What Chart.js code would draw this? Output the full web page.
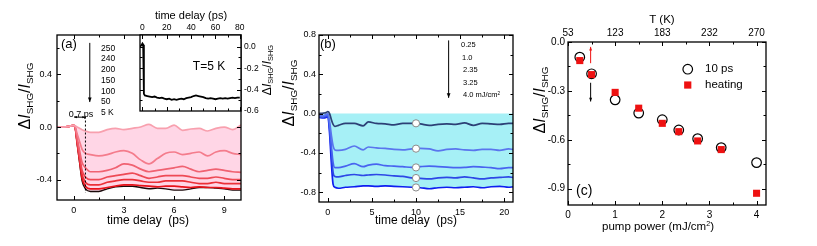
<!DOCTYPE html>
<html>
<head>
<meta charset="utf-8">
<script src="https://cdn.jsdelivr.net/npm/chart.js@4.4.1/dist/chart.umd.min.js"></script>
<style>
html, body { margin: 0; padding: 0; background: #fff; }
#wrap { position: relative; width: 817px; height: 246px; overflow: hidden; font-family: "Liberation Sans", Arial, sans-serif; color: #000; }
canvas { position: absolute; top: 0; }
.t { position: absolute; white-space: nowrap; line-height: 1; }
.c { transform: translate(-50%, -50%); }
.l { transform: translate(0, -50%); }
sup { font-size: 0.62em; vertical-align: 0.55em; line-height: 0; }
</style>
</head>
<body>
<div id="wrap">
  <canvas id="chartA" width="270" height="246" style="left:0"></canvas>
  <canvas id="chartB" width="270" height="246" style="left:270px"></canvas>
  <canvas id="chartInset" width="150" height="125" style="left:130px"></canvas>
  <canvas id="chartC" width="292" height="246" style="left:525px"></canvas>

  <div class="t l" style="left:61px;top:43px;font-size:13px">(a)</div>
  <div class="t c" style="left:148px;top:220px;font-size:12px">time delay&nbsp; (ps)</div>
  <div class="t c" style="left:81px;top:114px;font-size:9px">0.7 ps</div>
  <div class="t c" style="left:209px;top:66px;font-size:12px">T=5 K</div>
  <div class="t c" style="left:191px;top:15px;font-size:11px">time delay (ps)</div>

  <div class="t l" style="left:320px;top:43px;font-size:13px">(b)</div>
  <div class="t c" style="left:416px;top:220px;font-size:12px">time delay&nbsp; (ps)</div>

  <div class="t c" style="left:658px;top:227px;font-size:11.5px">pump power (mJ/cm<sup>2</sup>)</div>
  <div class="t c" style="left:662px;top:20px;font-size:11.5px">T (K)</div>
  <div class="t l" style="left:705px;top:69px;font-size:11.5px">10 ps</div>
  <div class="t l" style="left:705px;top:85px;font-size:11.5px">heating</div>
  <div class="t l" style="left:576px;top:190px;font-size:14px">(c)</div>
</div>
<script>
// panel (a): SHG change vs delay for several temperatures
const aTime = [-1, -0.6, -0.3, -0.1, 0.05, 0.2, 0.35, 0.5, 0.7, 1.0, 1.5, 2.0, 2.5, 3.0, 3.5, 4.0, 4.5, 5.0, 5.5, 6.0, 6.5, 7.0, 7.5, 8.0, 8.5, 9.0, 9.5, 10.0];
const a250 = [0, 0, 0.005, 0.01, 0.01, 0.0, -0.01, -0.02, -0.03, -0.04, -0.04, -0.02, -0.01, -0.02, -0.01, 0.0, 0.02, -0.01, -0.01, 0.015, -0.025, -0.015, -0.01, -0.03, -0.01, 0.0, -0.02, 0.015];
const a240 = [0, 0, 0.005, 0.01, 0.01, -0.05, -0.11, -0.17, -0.2, -0.21, -0.22, -0.21, -0.19, -0.18, -0.2, -0.25, -0.28, -0.24, -0.2, -0.19, -0.21, -0.2, -0.19, -0.22, -0.19, -0.18, -0.2, -0.21];
const a200 = [0, 0, 0.005, 0.01, 0.01, -0.08, -0.18, -0.27, -0.31, -0.34, -0.34, -0.33, -0.31, -0.28, -0.29, -0.32, -0.34, -0.33, -0.32, -0.31, -0.30, -0.32, -0.34, -0.33, -0.32, -0.33, -0.34, -0.345];
const a150 = [0, 0, 0.005, 0.01, 0.01, -0.1, -0.22, -0.33, -0.38, -0.40, -0.40, -0.38, -0.37, -0.36, -0.35, -0.37, -0.39, -0.38, -0.37, -0.37, -0.37, -0.38, -0.39, -0.39, -0.38, -0.39, -0.40, -0.40];
const a100 = [0, 0, 0.005, 0.01, 0.01, -0.11, -0.24, -0.36, -0.42, -0.44, -0.44, -0.42, -0.41, -0.40, -0.40, -0.41, -0.42, -0.42, -0.41, -0.41, -0.41, -0.42, -0.43, -0.43, -0.42, -0.43, -0.43, -0.43];
const a50 = [0, 0, 0.005, 0.01, 0.01, -0.12, -0.26, -0.39, -0.45, -0.47, -0.47, -0.46, -0.45, -0.44, -0.44, -0.445, -0.45, -0.455, -0.45, -0.45, -0.455, -0.46, -0.455, -0.46, -0.46, -0.465, -0.47, -0.47];
const a5 = [0, 0, 0.005, 0.01, 0.01, -0.12, -0.27, -0.41, -0.47, -0.49, -0.49, -0.47, -0.455, -0.45, -0.45, -0.46, -0.47, -0.465, -0.47, -0.48, -0.48, -0.47, -0.46, -0.46, -0.465, -0.47, -0.48, -0.48];
const aTemps = ['250', '240', '200', '150', '100', '50', '5 K'];
const aXTicks = [0, 3, 6, 9];
const aYTicks = [0.4, 0, -0.4];

// inset: 5 K trace over a long window
const iTime = [-2, -0.5, 0, 0.6, 1.2, 2, 4, 6, 8, 10, 12, 14, 16, 18, 20, 22, 24, 26, 28, 30, 32, 34, 36, 38, 40, 42, 44, 46, 48, 50, 52, 54, 56, 58, 60, 62, 64, 66, 68, 70, 72, 74, 76, 78, 80];
const iVal = [0.0, 0.02, 0.03, 0.02, -0.44, -0.455, -0.46, -0.465, -0.47, -0.465, -0.475, -0.48, -0.475, -0.485, -0.49, -0.485, -0.495, -0.49, -0.495, -0.49, -0.485, -0.49, -0.48, -0.475, -0.47, -0.46, -0.455, -0.46, -0.465, -0.47, -0.48, -0.485, -0.48, -0.485, -0.49, -0.485, -0.48, -0.485, -0.48, -0.485, -0.48, -0.475, -0.48, -0.475, -0.475];
const iXTicks = [0, 20, 40, 60, 80];
const iYTicks = [0, -0.2, -0.4, -0.6];

// panel (b): SHG change vs delay for several pump fluences
const bTime = [-1, -0.5, -0.2, 0, 0.2, 0.4, 0.6, 0.8, 1.2, 2, 3, 4, 4.6, 5.5, 6.5, 7.5, 8.5, 9.5, 10.5, 11.5, 12.5, 13.5, 14.5, 15.5, 16.5, 17.5, 18.5, 19.5, 20.5, 21];
const b025 = [0.0, 0.005, 0.01, 0.02, 0.0, -0.06, -0.11, -0.13, -0.12, -0.10, -0.10, -0.125, -0.085, -0.10, -0.105, -0.115, -0.10, -0.10, -0.105, -0.12, -0.11, -0.105, -0.11, -0.095, -0.12, -0.10, -0.105, -0.11, -0.10, -0.10];
const b10 = [-0.02, -0.02, -0.01, 0.0, -0.08, -0.22, -0.33, -0.37, -0.375, -0.365, -0.33, -0.37, -0.34, -0.35, -0.355, -0.365, -0.37, -0.36, -0.355, -0.36, -0.38, -0.365, -0.36, -0.37, -0.375, -0.365, -0.365, -0.375, -0.36, -0.365];
const b235 = [-0.03, -0.03, -0.02, -0.01, -0.12, -0.33, -0.5, -0.55, -0.55, -0.535, -0.51, -0.54, -0.525, -0.515, -0.53, -0.535, -0.54, -0.548, -0.54, -0.535, -0.54, -0.545, -0.55, -0.548, -0.54, -0.545, -0.55, -0.56, -0.55, -0.55];
const b325 = [-0.03, -0.035, -0.03, -0.02, -0.15, -0.4, -0.6, -0.64, -0.645, -0.63, -0.62, -0.63, -0.625, -0.62, -0.625, -0.635, -0.64, -0.655, -0.66, -0.665, -0.655, -0.65, -0.655, -0.645, -0.655, -0.665, -0.655, -0.65, -0.645, -0.65];
const b40 = [-0.04, -0.045, -0.04, -0.03, -0.2, -0.5, -0.72, -0.75, -0.76, -0.75, -0.745, -0.735, -0.735, -0.74, -0.735, -0.74, -0.745, -0.75, -0.755, -0.765, -0.755, -0.75, -0.755, -0.75, -0.745, -0.755, -0.745, -0.74, -0.75, -0.745];
const bMarkTime = 10;
const bMarks = [-0.099, -0.357, -0.548, -0.656, -0.752];
const bFluences = ['0.25', '1.0', '2.35', '3.25', '4.0 mJ/cm<sup>2</sup>'];
const bXTicks = [0, 5, 10, 15, 20];
const bYTicks = [-0.8, -0.4, 0, 0.4, 0.8];

// panel (c): 10 ps value and heating estimate vs pump power
const pumpPower = [0.25, 0.5, 1, 1.5, 2, 2.35, 2.75, 3.25, 4];
const tenPs = [-0.093, -0.195, -0.355, -0.436, -0.477, -0.54, -0.593, -0.648, -0.74];
const heating = [-0.114, -0.2, -0.309, -0.406, -0.499, -0.55, -0.607, -0.66, -0.928];
const cXTicks = [0, 1, 2, 3, 4];
const cYTicks = [0, -0.3, -0.6, -0.9];
const tempLabels = ['53', '123', '183', '232', '270'];

const FONT = '"Liberation Sans", Arial, sans-serif';
Chart.defaults.font.family = FONT;
Chart.defaults.color = '#000';

const pts = (xs, ys) => xs.map((x, i) => ({ x, y: ys[i] }));
const mids = arr => arr.slice(1).map((v, i) => (v + arr[i]) / 2);
const f1 = v => Number(v).toFixed(1);

function axis(position, min, max, ticks, fmt, size, pad, dim) {
  return {
    type: 'linear', position, min, max,
    grid: { display: false, drawTicks: false },
    border: { display: false },
    ticks: { font: { size }, padding: pad, autoSkip: false, maxRotation: 0, color: '#000', callback: fmt },
    afterBuildTicks: s => { s.ticks = ticks.map(v => ({ value: v })); },
    afterFit: s => {
      if (position === 'left' || position === 'right') s.width = dim; else s.height = dim;
    },
  };
}

function arrowHead(ctx, x1, y1, x2, y2, size) {
  const ang = Math.atan2(y2 - y1, x2 - x1);
  ctx.beginPath();
  ctx.moveTo(x2, y2);
  ctx.lineTo(x2 - size * Math.cos(ang - 0.38), y2 - size * Math.sin(ang - 0.38));
  ctx.lineTo(x2 - size * Math.cos(ang + 0.38), y2 - size * Math.sin(ang + 0.38));
  ctx.closePath();
  ctx.fill();
}

// rotated "ΔI_SHG / I_SHG" axis title with subscripts
function ratioTitle(ctx, cx, cy, size) {
  const sub = size * 0.62;
  const parts = [
    ['Δ', `${size}px ${FONT}`, 0], ['I', `italic ${size}px ${FONT}`, 0], ['SHG', `${sub}px ${FONT}`, size * 0.22],
    ['/', `${size}px ${FONT}`, 0], ['I', `italic ${size}px ${FONT}`, 0], ['SHG', `${sub}px ${FONT}`, size * 0.22],
  ];
  let w = 0;
  const widths = parts.map(p => { ctx.font = p[1]; const m = ctx.measureText(p[0]).width; w += m; return m; });
  ctx.save();
  ctx.translate(cx, cy);
  ctx.rotate(-Math.PI / 2);
  ctx.fillStyle = '#000';
  ctx.textBaseline = 'alphabetic';
  ctx.textAlign = 'left';
  let x = -w / 2;
  const base = size * 0.3;
  parts.forEach((p, i) => { ctx.font = p[1]; ctx.fillText(p[0], x, base + p[2]); x += widths[i]; });
  ctx.restore();
}

// frame, inward ticks and small annotations
const deco = {
  id: 'deco',
  beforeDraw(chart, args, o) {
    if (!o.whiteBg) return;
    const a = chart.chartArea;
    chart.ctx.save();
    chart.ctx.fillStyle = '#fff';
    chart.ctx.fillRect(a.left, a.top, a.right - a.left, a.bottom - a.top);
    chart.ctx.restore();
  },
  afterDraw(chart, args, o) {
    const { ctx, chartArea: a } = chart;
    const xs = chart.scales.x, ys = chart.scales.y;
    const seg = (x1, y1, x2, y2) => { ctx.beginPath(); ctx.moveTo(x1, y1); ctx.lineTo(x2, y2); ctx.stroke(); };
    ctx.save();
    ctx.strokeStyle = '#000';
    ctx.lineWidth = 1;
    const xt = (vals, len) => vals.forEach(v => {
      const p = Math.round(xs.getPixelForValue(v)) + 0.5;
      if (p < a.left || p > a.right) return;
      seg(p, a.bottom, p, a.bottom - len); seg(p, a.top, p, a.top + len);
    });
    const yt = (vals, len) => vals.forEach(v => {
      const p = Math.round(ys.getPixelForValue(v)) + 0.5;
      if (p < a.top || p > a.bottom) return;
      seg(a.left, p, a.left + len, p); seg(a.right, p, a.right - len, p);
    });
    xt(o.xMajor, 4); xt(mids(o.xMajor).concat(o.xExtra || []), 2.5);
    yt(o.yMajor, 4); yt(mids(o.yMajor).concat(o.yExtra || []), 2.5);
    ctx.lineWidth = 1.3;
    ctx.strokeRect(a.left, a.top, a.right - a.left, a.bottom - a.top);

    ctx.lineWidth = 1;
    (o.dashed || []).forEach(d => {
      ctx.setLineDash([2, 2]);
      seg(xs.getPixelForValue(d.x1), ys.getPixelForValue(d.y1), xs.getPixelForValue(d.x2), ys.getPixelForValue(d.y2));
      ctx.setLineDash([]);
    });
    (o.arrows || []).forEach(d => {
      const x1 = xs.getPixelForValue(d.x1), y1 = ys.getPixelForValue(d.y1);
      const x2 = xs.getPixelForValue(d.x2), y2 = ys.getPixelForValue(d.y2);
      ctx.strokeStyle = d.color; ctx.fillStyle = d.color;
      seg(x1, y1, x2, y2);
      arrowHead(ctx, x1, y1, x2, y2, d.head);
      if (d.both) arrowHead(ctx, x2, y2, x1, y1, d.head);
    });
    (o.keys || []).forEach(k => {
      const x = xs.getPixelForValue(k.x), y = ys.getPixelForValue(k.y);
      if (k.style === 'circle') {
        ctx.fillStyle = '#fff'; ctx.strokeStyle = '#000'; ctx.lineWidth = 1.2;
        ctx.beginPath(); ctx.arc(x, y, 4.8, 0, Math.PI * 2); ctx.fill(); ctx.stroke();
      } else {
        ctx.fillStyle = '#ee1111';
        ctx.fillRect(x - 3.6, y - 3.6, 7.2, 7.2);
      }
    });
    ctx.restore();
    if (o.title) ratioTitle(ctx, o.title.x, o.title.y, o.title.size);
  },
};

function baseOptions(scales, padding, decoOpts) {
  return {
    responsive: false, devicePixelRatio: 1, animation: false,
    layout: { padding, autoPadding: false },
    plugins: {
      legend: { display: false }, tooltip: { enabled: false },
      filler: { drawTime: 'beforeDatasetsDraw' },
      deco: decoOpts,
    },
    elements: { point: { radius: 0 }, line: { borderWidth: 1.6, cubicInterpolationMode: 'monotone' } },
    scales,
  };
}

// panel (a)
const aCurves = [a250, a240, a200, a150, a100, a50, a5];
const aColors = ['#f8a0ae', '#f47c8c', '#f06272', '#ee4a56', '#eb3038', '#e8121a', '#1a0a0a'];
new Chart(document.getElementById('chartA'), {
  type: 'line',
  data: {
    datasets: aCurves.map((d, i) => ({
      data: pts(aTime, d),
      borderColor: aColors[i],
      borderWidth: i === 6 ? 1.4 : 1.7,
      fill: i === 0 ? { target: 6 } : false,
      backgroundColor: '#ffd6e6',
    })),
  },
  options: baseOptions({
    x: axis('bottom', -1, 10, aXTicks, v => String(v), 9, 5, 46),
    y: axis('left', -0.555, 0.7, aYTicks, f1, 9, 5, 57),
  }, { top: 35, right: 29 }, {
    xMajor: aXTicks, xExtra: [-1.5], yMajor: [-0.4, 0, 0.4], yExtra: [0.6, -0.6],
    title: { x: 25, y: 96, size: 16 },
    dashed: [{ x1: 0.7, y1: 0.08, x2: 0.7, y2: -0.5 }],
    arrows: [
      { x1: 0.96, y1: 0.64, x2: 0.96, y2: 0.19, color: '#000', head: 5 },
      { x1: 0.03, y1: 0.075, x2: 0.68, y2: 0.075, color: '#000', head: 3, both: true },
    ],
  }),
  plugins: [deco],
});

// inset of (a)
new Chart(document.getElementById('chartInset'), {
  type: 'line',
  data: { datasets: [{ data: pts(iTime, iVal), borderColor: '#000', borderWidth: 1.8, cubicInterpolationMode: 'default', tension: 0 }] },
  options: baseOptions({
    x: axis('top', -2, 81, iXTicks, v => String(v), 8.5, 2, 35),
    y: axis('right', -0.6, 0.11, iYTicks, f1, 8.5, 3, 39),
  }, { left: 10, bottom: 14 }, {
    whiteBg: true, xMajor: iXTicks, yMajor: [-0.6, -0.4, -0.2, 0], yExtra: [],
    title: { x: 137, y: 70, size: 12 },
  }),
  plugins: [deco],
});

// panel (b)
const bCurves = [b025, b10, b235, b325, b40];
const bColors = ['#2c4076', '#5a76ee', '#4864f0', '#2d48e6', '#0e1ef0'];
new Chart(document.getElementById('chartB'), {
  type: 'line',
  data: {
    datasets: [{
      type: 'scatter',
      data: bMarks.map(v => ({ x: bMarkTime, y: v })),
      pointRadius: 3.6, pointBackgroundColor: '#fff', pointBorderColor: '#8a8a8a', pointBorderWidth: 1,
    }].concat(bCurves.map((d, i) => ({
      data: pts(bTime, d),
      borderColor: bColors[i],
      borderWidth: 1.7,
      fill: i === 4 ? 'origin' : false,
      backgroundColor: '#a6f0f6',
    }))),
  },
  options: baseOptions({
    x: axis('bottom', -1, 21, bXTicks, v => String(v), 9, 5, 44),
    y: axis('left', -0.9, 0.8, bYTicks, f1, 9, 3, 49),
  }, { top: 35, right: 27 }, {
    xMajor: bXTicks, yMajor: bYTicks,
    title: { x: 19, y: 93, size: 16 },
    arrows: [{ x1: 13.7, y1: 0.745, x2: 13.7, y2: 0.16, color: '#000', head: 5 }],
  }),
  plugins: [deco],
});

// panel (c)
new Chart(document.getElementById('chartC'), {
  type: 'scatter',
  data: {
    datasets: [
      { data: pts(pumpPower, heating), pointStyle: 'rect', pointRadius: 5, pointBackgroundColor: '#ee1111', pointBorderColor: '#ee1111', pointBorderWidth: 0 },
      { data: pts(pumpPower, tenPs), pointStyle: 'circle', pointRadius: 4.8, pointBackgroundColor: '#fff', pointBorderColor: '#000', pointBorderWidth: 1.2 },
    ],
  },
  options: baseOptions({
    x: axis('bottom', 0, 4.2, cXTicks, v => String(v), 10, 4, 41),
    xTop: axis('top', 0, 4.2, cXTicks, (v, i) => tempLabels[i], 10, 3, 42),
    y: axis('left', -1.0, 0, cYTicks, f1, 10, 3, 43),
  }, { right: 51 }, {
    xMajor: cXTicks, xExtra: [], yMajor: [-0.9, -0.6, -0.3, 0], yExtra: [],
    title: { x: 15, y: 100, size: 16 },
    arrows: [
      { x1: 0.48, y1: -0.13, x2: 0.48, y2: -0.03, color: '#ee1111', head: 4 },
      { x1: 0.48, y1: -0.25, x2: 0.48, y2: -0.365, color: '#000', head: 4 },
    ],
    keys: [{ x: 2.54, y: -0.167, style: 'circle' }, { x: 2.54, y: -0.264, style: 'rect' }],
  }),
  plugins: [deco],
});

// text keys next to the arrows in (a) and (b)
const wrap = document.getElementById('wrap');
aTemps.forEach((s, i) => {
  const d = document.createElement('div');
  d.className = 't l';
  d.style.cssText = `left:101px;top:${47.7 + i * 10.7}px;font-size:8.5px`;
  d.textContent = s;
  wrap.appendChild(d);
});
bFluences.forEach((s, i) => {
  const d = document.createElement('div');
  d.className = 't l';
  d.style.cssText = `left:${461 + Math.min(i, 2)}px;top:${45 + i * 12.5}px;font-size:7.5px`;
  d.innerHTML = s;
  wrap.appendChild(d);
});
</script>
</body>
</html>
